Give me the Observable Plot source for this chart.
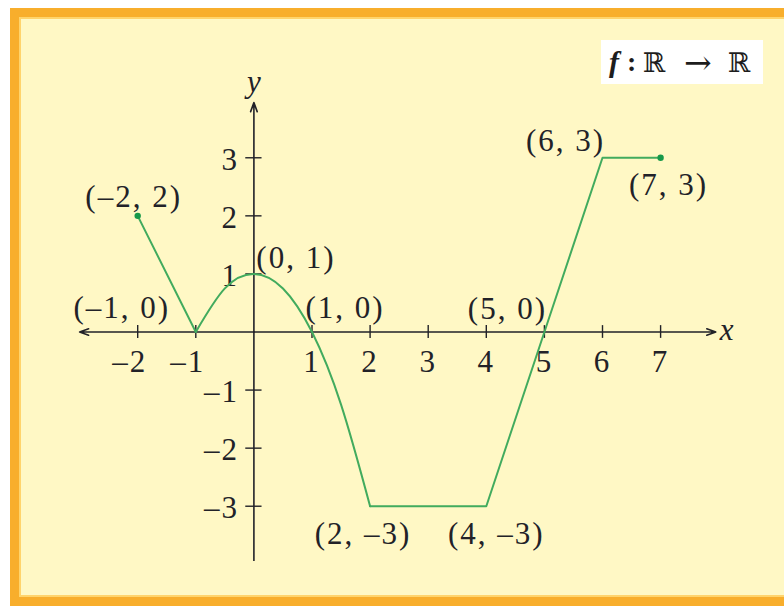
<!DOCTYPE html>
<html>
<head>
<meta charset="utf-8">
<script src="https://cdn.jsdelivr.net/npm/d3@7"></script>
<script src="https://cdn.jsdelivr.net/npm/@observablehq/plot@0.6"></script>
<style>
html, body { margin: 0; padding: 0; background: #ffffff; width: 784px; height: 608px; overflow: hidden; }
#panel { position: absolute; left: 10px; top: 8px; width: 800px; height: 580px; background: #FFF8C5;
  border: 9px solid #F8AE2C; border-right: none;
  box-shadow: inset 2px 2px 0 0 #FFD46C, inset 0 -2px 0 0 #FFD46C; }
#chart { position: absolute; left: 0; top: 0; }
#fbox { position: absolute; left: 601px; top: 40px; width: 162px; height: 44px; background: #ffffff;
  font-family: "Liberation Serif", "Times New Roman", serif; font-size: 30px; color: #1d1d1d; }
#fbox span { position: absolute; top: 0; line-height: 44px; white-space: nowrap; }
#fbox .f { left: 8px; font-style: italic; font-weight: bold; }
#fbox .c { left: 26px; font-weight: bold; font-size: 28px; }
#fbox .r { font-family: "DejaVu Serif", serif; font-size: 27px; top: 1px; }
#fbox .a { left: 83px; font-family: "DejaVu Serif", serif; font-size: 33px; top: 1px; }
</style>
</head>
<body>
<div id="panel"></div>
<div id="chart"></div>
<div id="fbox"><span class="f">f</span><span class="c">:</span><span class="r" style="left:42px">ℝ</span><span class="a">→</span><span class="r" style="left:127px">ℝ</span></div>
<script>
// ---- data ----
const leftX = [-2, -1];
const leftY = [2, 0];
const arcX = [-1, -0.5, 0, 0.5, 1, 1.5, 2];
const arcY = [0, 0.75, 1, 0.75, 0, -1.25, -3];
const rightX = [2, 4, 5, 6, 7];
const rightY = [-3, -3, 0, 3, 3];
const endX = [-2, 7];
const endY = [2, 3];
const labelText = ["(–2, 2)", "(–1, 0)", "(0, 1)", "(1, 0)", "(2, –3)", "(4, –3)", "(5, 0)", "(6, 3)", "(7, 3)"];
const labelX = [-2, -1, 0, 1, 2, 4, 5, 6, 7];
const labelY = [2, 0, 1, 0, -3, -3, 0, 3, 3];
const xTicks = [-2, -1, 1, 2, 3, 4, 5, 6, 7];
const yTicks = [-3, -2, -1, 1, 2, 3];
const xAxisEnds = [-3, 7.95];
const yAxisEnds = [-3.95, 3.95];

// ---- styling (pixel offsets for labels) ----
const labelDx = [-4, -74, 42, 33, -7, 10, -37, -37, 8];
const labelDy = [-19, -24, -16, -24, 28, 28, -23, -17, 27];
const ink = "#222228";
const green = "#42AB5E";
const dotGreen = "#17994A";
const font = "'Liberation Serif', 'Times New Roman', Times, serif";
const fs = 31;

const zip = (xs, ys) => xs.map((x, i) => ({x, y: ys[i]}));
const minus = (d) => d < 0 ? "–" + Math.abs(d) : String(d);

const labelMarks = labelText.map((t, i) =>
  Plot.text([{x: labelX[i], y: labelY[i], t}], {
    x: "x", y: "y", text: "t", dx: labelDx[i], dy: labelDy[i],
    fill: ink, fontSize: fs, fontFamily: font
  })
);

const chart = Plot.plot({
  width: 784,
  height: 608,
  margin: 0,
  x: {domain: [-4, 8], range: [21.0, 718.2], axis: null},
  y: {domain: [-4, 4], range: [563.8, 99.2], axis: null},
  style: "background: transparent; overflow: visible; font-family: 'Liberation Serif', serif; letter-spacing: 2px;",
  marks: [
    // axes
    Plot.arrow([xAxisEnds[1], xAxisEnds[0]], {x1: () => 0, y1: () => 0, x2: d => d, y2: () => 0,
      stroke: ink, strokeWidth: 1.6, headLength: 9, headAngle: 40}),
    Plot.arrow([yAxisEnds[1]], {x1: () => 0, y1: () => 0, x2: () => 0, y2: d => d,
      stroke: ink, strokeWidth: 1.6, headLength: 9, headAngle: 40}),
    Plot.ruleX([0], {x: d => d, y1: () => 0, y2: () => yAxisEnds[0], stroke: ink, strokeWidth: 1.6}),
    Plot.ruleX(xTicks, {x: d => d, y1: () => -0.11, y2: () => 0.11, stroke: ink, strokeWidth: 1.4}),
    Plot.ruleY(yTicks, {y: d => d, x1: () => -0.14, x2: () => 0.14, stroke: ink, strokeWidth: 1.4}),
    Plot.text(xTicks.filter(d => d > 0), {x: d => d, y: () => 0, text: minus, dy: 30,
      fill: ink, fontSize: fs, fontFamily: font}),
    Plot.text(xTicks.filter(d => d < 0), {x: d => d, y: () => 0, text: minus, dy: 30, dx: -8,
      fill: ink, fontSize: fs, fontFamily: font}),
    Plot.text(yTicks, {x: () => 0, y: d => d, text: minus, dx: -15, dy: 2, textAnchor: "end",
      fill: ink, fontSize: fs, fontFamily: font}),
    Plot.text(["x"], {x: () => xAxisEnds[1], y: () => 0, text: d => d, dx: 4, dy: -2, textAnchor: "start",
      fill: ink, fontSize: fs, fontFamily: font, fontStyle: "italic"}),
    Plot.text(["y"], {x: () => 0, y: () => yAxisEnds[1], text: d => d, dx: 1, dy: -21,
      fill: ink, fontSize: fs, fontFamily: font, fontStyle: "italic"}),
    // function graph
    Plot.line(zip(leftX, leftY), {x: "x", y: "y", stroke: green, strokeWidth: 2}),
    Plot.line(zip(arcX, arcY), {x: "x", y: "y", stroke: green, strokeWidth: 2, curve: "natural"}),
    Plot.line(zip(rightX, rightY), {x: "x", y: "y", stroke: green, strokeWidth: 2}),
    Plot.dot(zip(endX, endY), {x: "x", y: "y", r: 3.2, fill: dotGreen, stroke: "none"}),
    ...labelMarks
  ]
});
document.getElementById("chart").appendChild(chart);
</script>
</body>
</html>
